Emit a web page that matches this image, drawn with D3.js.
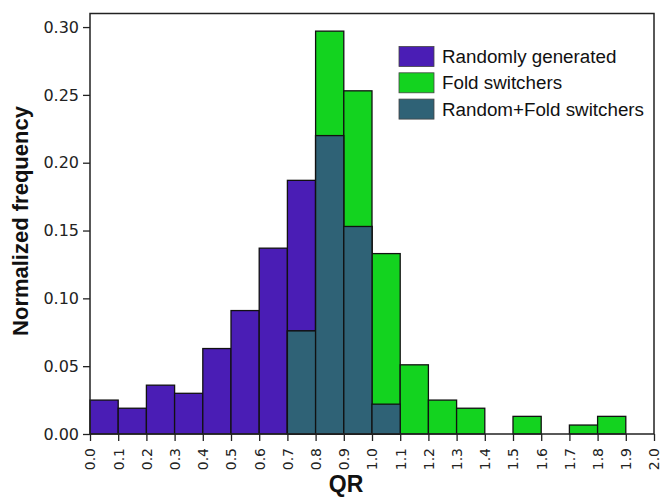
<!DOCTYPE html>
<html>
<head>
<meta charset="utf-8">
<script src="https://cdn.jsdelivr.net/npm/d3@7"></script>
<style>
body{margin:0;background:#fff}
svg{font-family:'DejaVu Sans',sans-serif}
</style>
</head>
<body>
<svg id="chart" width="661" height="504"></svg>
<script>
// bin edges 0.0..2.0 step 0.1
var binStarts = [0.0,0.1,0.2,0.3,0.4,0.5,0.6,0.7,0.8,0.9,1.0,1.1,1.2,1.3,1.4,1.5,1.6,1.7,1.8,1.9]
var randomFreq = [0.025,0.019,0.036,0.030,0.063,0.091,0.137,0.187,0.220,0.153,0.022,0,0,0,0,0,0,0,0,0]
var foldFreq   = [0,0,0,0,0,0,0,0.076,0.297,0.253,0.133,0.051,0.025,0.019,0,0.013,0,0.0066,0.013,0]
var xTicks = [0.0,0.1,0.2,0.3,0.4,0.5,0.6,0.7,0.8,0.9,1.0,1.1,1.2,1.3,1.4,1.5,1.6,1.7,1.8,1.9,2.0]
var yTicks = [0.00,0.05,0.10,0.15,0.20,0.25,0.30]
var legendLabels = ['Randomly generated','Fold switchers','Random+Fold switchers']
var colors = ['#4a1db5','#13d31f','#2f6276']

var svg = d3.select('#chart')
var mLeft = 90, mRight = 654, mTop = 13.5, mBottom = 434

var x = d3.scaleLinear().domain([0,2]).range([mLeft,mRight])
var y = d3.scaleLinear().domain([0,0.31]).range([mBottom,mTop])

var bars = svg.append('g').attr('id','bars')
function drawBars(vals,color,id){
	bars.append('g').attr('id',id).selectAll('rect')
		.data(binStarts.map(function(b,i){ return {x0:b, v:vals[i]} }).filter(function(d){ return d.v>0 }))
		.enter().append('rect')
		.attr('x',function(d){ return x(d.x0) })
		.attr('width',function(d){ return x(d.x0+0.1)-x(d.x0) })
		.attr('y',function(d){ return y(d.v) })
		.attr('height',function(d){ return y(0)-y(d.v) })
		.style('fill',color).style('stroke','#111').style('stroke-width',1.3)
}
drawBars(randomFreq,colors[0],'random')
drawBars(foldFreq,colors[1],'fold')
drawBars(randomFreq.map(function(v,i){ return Math.min(v,foldFreq[i]) }),colors[2],'overlap')

// axes
var xAxis = svg.append('g').attr('transform','translate(0,'+mBottom+')')
	.call(d3.axisBottom(x).tickValues(xTicks).tickFormat(d3.format('.1f')).tickSize(7).tickSizeOuter(0))
xAxis.selectAll('text')
	.attr('transform','rotate(-90)')
	.attr('x',-14).attr('y',0).attr('dy','0.35em')
	.style('text-anchor','end').style('font-size','14px')
var yAxis = svg.append('g').attr('transform','translate('+mLeft+',0)')
	.call(d3.axisLeft(y).tickValues(yTicks).tickFormat(d3.format('.2f')).tickSize(7).tickPadding(4).tickSizeOuter(0))
yAxis.selectAll('text').style('font-size','16px')
svg.selectAll('.tick text').style('fill','#222').style('font-family','DejaVu Sans, sans-serif')
svg.selectAll('.tick line').style('stroke','#222').style('stroke-width',1.3)
svg.selectAll('.domain').remove()

svg.append('rect').attr('x',mLeft).attr('y',mTop).attr('width',mRight-mLeft).attr('height',mBottom-mTop)
	.style('fill','none').style('stroke','#222').style('stroke-width',1.5)

// labels
svg.append('text').text('QR').attr('x',346).attr('y',492)
	.attr('text-anchor','middle').style('font-family','Liberation Sans, Arial, sans-serif')
	.style('font-weight','bold').style('font-size','23px').style('fill','#111')
svg.append('text').text('Normalized frequency')
	.attr('transform','translate(28,221) rotate(-90)')
	.attr('text-anchor','middle').style('font-family','Liberation Sans, Arial, sans-serif')
	.style('font-weight','bold').style('font-size','22px').style('fill','#111')

// legend
var legend = svg.append('g').attr('id','legend')
legendLabels.forEach(function(e,i){
	legend.append('rect').attr('x',399).attr('y',46.5+i*26.3).attr('width',35).attr('height',20)
		.style('fill',colors[i]).style('stroke','#444').style('stroke-width',0.8)
	legend.append('text').text(e).attr('x',442).attr('y',56.5+i*26.3).attr('dy','0.35em')
		.style('font-family','Liberation Sans, Arial, sans-serif').style('font-size','18.8px').style('fill','#111')
})
</script>
</body>
</html>
